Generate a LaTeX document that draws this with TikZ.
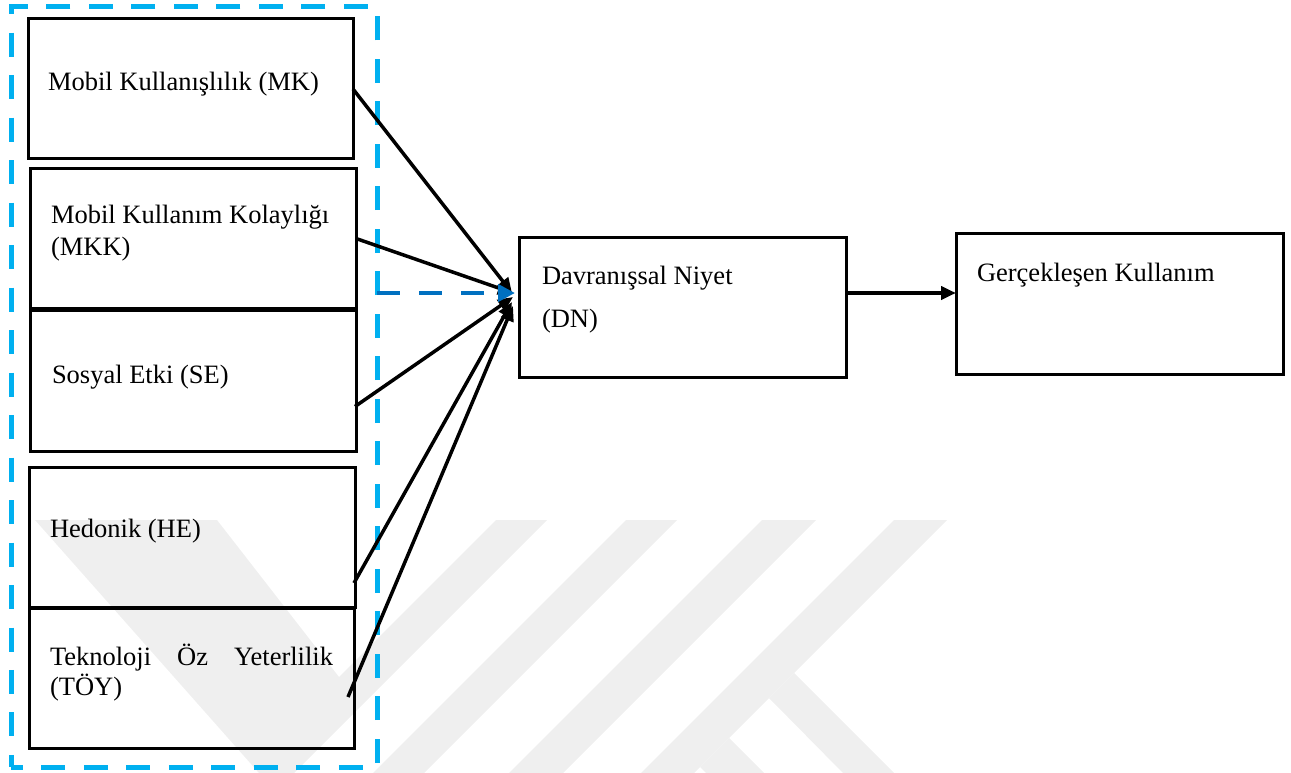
\documentclass[tikz,border=0pt]{standalone}
\usepackage{fontspec}
\setmainfont{Liberation Serif}
\usetikzlibrary{arrows.meta,calc}
\definecolor{wmgray}{RGB}{239,239,239}
\definecolor{frameblue}{RGB}{0,176,240}
\definecolor{darkblue}{RGB}{0,112,192}
\begin{document}
\begin{tikzpicture}[x=1pt,y=-1pt,
  box/.style={draw,line width=3pt,inner sep=0pt,outer sep=0pt},
  grpframe/.style={draw=frameblue,line width=5pt,inner sep=0pt,outer sep=0pt,dash pattern=on 24pt off 18.49pt,dash phase=12pt},
  txt/.style={anchor=base west,inner sep=0pt,outer sep=0pt,font=\fontsize{26.5}{31}\selectfont},
  conn/.style={line width=3.5pt,-{Triangle[length=15pt,width=13pt]}},
  bluearrow/.style={draw=darkblue,line width=4.5pt,dash pattern=on 23pt off 19pt,-{Triangle[length=17pt,width=17pt,fill=darkblue]}},
  wm/.style={fill=wmgray,draw=none}]
\useasboundingbox (0,0) rectangle (1291,773);
% watermark
\fill[wm] (35,520) -- (217,520) -- (339,677) -- (496,520) -- (547,520) -- (294,773) -- (259,773) -- cycle;
\fill[wm] (626,520) -- (677,520) -- (424,773) -- (373,773) -- cycle;
\fill[wm] (762,520) -- (816,520) -- (563,773) -- (509,773) -- cycle;
\fill[wm] (894,520) -- (947,520) -- (694,773) -- (641,773) -- cycle;
\fill[wm] (794,673) -- (894,773) -- (843,773) -- (769,698) -- cycle;
\fill[wm] (729,738) -- (764,773) -- (706,773) -- (700,767) -- cycle;
% group frame
\node[grpframe,minimum width=366pt,minimum height=760pt] (grp) at (194,387) {};
% boxes
\node[box,minimum width=325pt,minimum height=140pt] (mk) at (190.5,89) {};
\node[box,minimum width=326pt,minimum height=139pt] (mkk) at (193,238.5) {};
\node[box,minimum width=326pt,minimum height=141pt] (se) at (193,380.5) {};
\node[box,minimum width=326pt,minimum height=140pt] (he) at (192,537) {};
\node[box,minimum width=325pt,minimum height=140pt] (toy) at (191.5,678) {};
\node[box,minimum width=327pt,minimum height=140pt] (dn) at (682.5,307) {};
\node[box,minimum width=327pt,minimum height=141pt] (gk) at (1119.5,303.5) {};
% texts
\node[txt] (mkt) at (48,91) {Mobil Kullanışlılık (MK)};
\node[txt] (mkkt1) at (51,223) {Mobil Kullanım Kolaylığı};
\node[txt] (mkkt2) at (51,255) {(MKK)};
\node[txt] (set) at (52,383) {Sosyal Etki (SE)};
\node[txt] (het) at (50,537) {Hedonik (HE)};
\node[txt] (toyt1) at (50,665) {\hbox to 283pt{Teknoloji\hfill Öz\hfill Yeterlilik}};
\node[txt] (toyt2) at (50,695) {(TÖY)};
\node[txt] (dnt1) at (542,284) {Davranışsal Niyet};
\node[txt] (dnt2) at (542,327) {(DN)};
\node[txt] (gkt) at (977,281) {Gerçekleşen Kullanım};
% end points at DN
\coordinate (tmk) at ($(dn.west)+(-7,-14)$);
\coordinate (tmkk) at ($(dn.west)+(-6,-14)$);
\coordinate (tse) at ($(dn.west)+(-6,-10)$);
\coordinate (the) at ($(dn.west)+(-7,-5)$);
\coordinate (ttoy) at ($(dn.west)+(-6,-1)$);
\coordinate (tblue) at ($(dn.west)+(-4,-14)$);
\coordinate (dnout) at ($(dn.east)+(0,-14)$);
% connectors
\draw[conn] (mk.east) -- (tmk);
\draw[conn] (mkk.east) -- (tmkk);
\draw[conn] ($(se.east)+(-1,26)$) -- (tse);
\draw[conn] ($(he.east)+(-1,46)$) -- (the);
\draw[conn] ($(toy.east)+(-6,19)$) -- (ttoy);
\draw[conn,line width=4pt] (dnout) -- (gk.west |- dnout);
\draw[bluearrow] (grp.east |- tblue) -- (tblue);
\end{tikzpicture}
\end{document}
